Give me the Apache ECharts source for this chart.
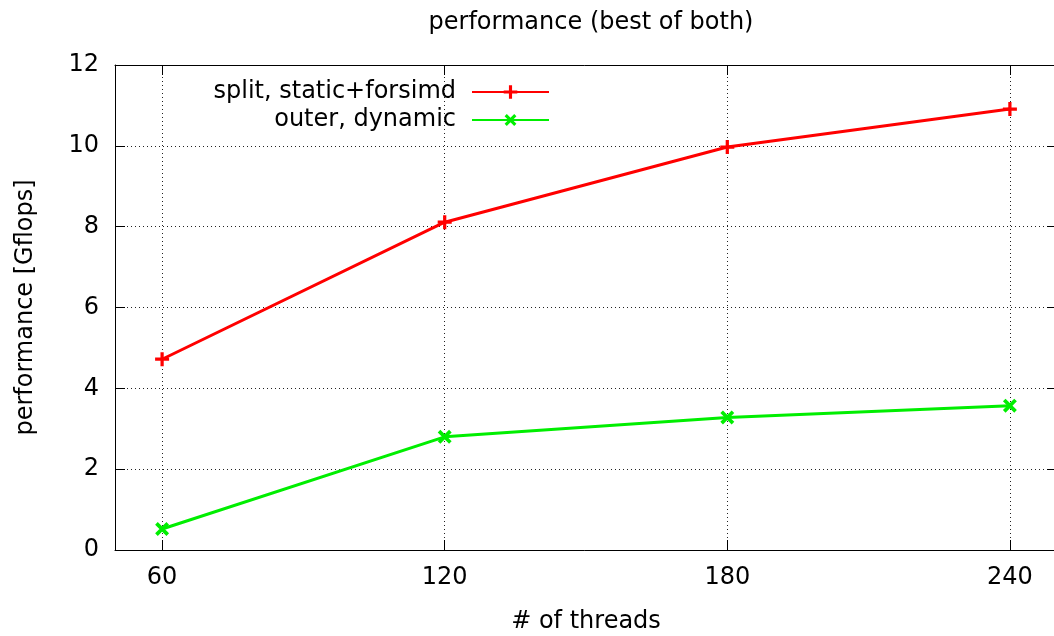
<!DOCTYPE html>
<html>
<head>
<meta charset="utf-8">
<script src="https://cdn.jsdelivr.net/npm/echarts@6/dist/echarts.min.js"></script>
<style>
    html, body {margin: 0; padding: 0; background: #fff;}
    #chart {width: 1054px; height: 636px;}
</style>
</head>
<body>
<div id="chart"></div>
<script>
// values
const threads = [60, 120, 180, 240];
const splitStatic = [4.72, 8.11, 9.97, 10.91];
const outerDynamic = [0.52, 2.80, 3.28, 3.57];
const seriesNames = ['split, static+forsimd', 'outer, dynamic'];

const FONT = 'DejaVu Sans';
const FS = 24;
const plusPath = 'path://M5,0h3v13h-3z M0,5h13v3h-13z';

const gridLine = {show: true, lineStyle: {color: '#222', width: 1, type: [1, 3]}};
const tickIn = {show: true, inside: true, length: 10, lineStyle: {color: '#000', width: 1}};

const chart = echarts.init(document.getElementById('chart'));

const xBase = {
    type: 'value',
    min: 50,
    max: 250,
    axisLine: {show: true, onZero: false, lineStyle: {color: '#000', width: 1}}
};

chart.setOption({
    animation: false,
    title: {
        text: 'performance (best of both)',
        left: 586,
        textAlign: 'center',
        top: 6,
        textStyle: {fontFamily: FONT, fontSize: FS, fontWeight: 'normal', color: '#000'}
    },
    legend: {
        right: 504,
        top: 80,
        orient: 'vertical',
        align: 'right',
        padding: 0,
        itemWidth: 77,
        itemHeight: 17,
        itemGap: 4,
        textStyle: {fontFamily: FONT, fontSize: FS, color: '#000', padding: [0, 11, 0, 0]},
        data: seriesNames
    },
    grid: {left: 115, right: -3, top: 65, bottom: 86, containLabel: false, outerBoundsMode: 'none'},
    xAxis: [
        Object.assign({}, xBase, {
            position: 'bottom',
            name: '# of threads',
            nameLocation: 'middle',
            nameGap: 60,
            nameTextStyle: {fontFamily: FONT, fontSize: FS, color: '#000'},
            axisTick: Object.assign({customValues: threads}, tickIn),
            axisLabel: {customValues: threads, margin: 16, fontFamily: FONT, fontSize: FS, color: '#000'},
            splitLine: gridLine
        }),
        Object.assign({}, xBase, {
            position: 'top',
            axisTick: Object.assign({customValues: threads}, tickIn),
            axisLabel: {show: false},
            splitLine: {show: false}
        })
    ],
    yAxis: [
        {
            type: 'value',
            min: 0,
            max: 12,
            interval: 2,
            position: 'left',
            name: 'performance [Gflops]',
            nameLocation: 'middle',
            nameGap: 77,
            nameTextStyle: {fontFamily: FONT, fontSize: FS, color: '#000'},
            axisLine: {show: true, lineStyle: {color: '#000', width: 1}},
            axisTick: tickIn,
            axisLabel: {margin: 16, fontFamily: FONT, fontSize: FS, color: '#000'},
            splitLine: gridLine
        },
        {
            type: 'value',
            min: 0,
            max: 12,
            interval: 2,
            position: 'right',
            axisLine: {show: true, lineStyle: {color: '#000', width: 1}},
            axisTick: tickIn,
            axisLabel: {show: false},
            splitLine: {show: false}
        }
    ],
    series: [
        {
            name: seriesNames[0],
            type: 'line',
            data: threads.map((t, i) => [t, splitStatic[i]]),
            symbol: plusPath,
            symbolSize: 14,
            color: '#ff0000',
            lineStyle: {width: 3, color: '#ff0000'},
            itemStyle: {color: '#ff0000'}
        },
        {
            name: seriesNames[1],
            type: 'line',
            data: threads.map((t, i) => [t, outerDynamic[i]]),
            symbol: plusPath,
            symbolRotate: 45,
            symbolSize: 16,
            color: '#00ee00',
            lineStyle: {width: 3, color: '#00ee00'},
            itemStyle: {color: '#00ee00'}
        }
    ]
});
</script>
</body>
</html>
